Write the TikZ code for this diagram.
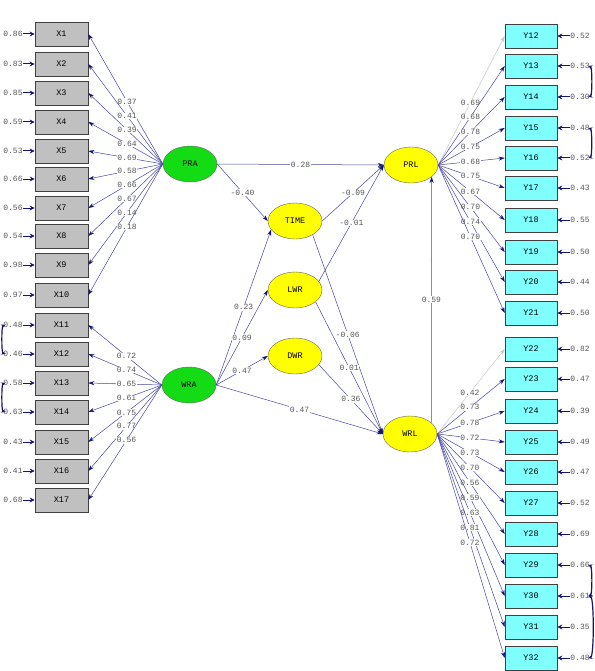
\documentclass[tikz,border=0pt]{standalone}
\usepackage{fontspec}
\setmonofont{Liberation Mono}
\usetikzlibrary{arrows.meta,shapes.geometric}
\definecolor{navy}{RGB}{20,20,120}
\definecolor{pline}{RGB}{70,70,165}
\definecolor{xgrey}{RGB}{192,192,192}
\definecolor{ycyan}{RGB}{128,255,255}
\definecolor{lgreen}{RGB}{20,220,20}
\definecolor{lyellow}{RGB}{255,255,0}
\definecolor{lbltext}{RGB}{85,85,85}
\definecolor{fixgrey}{RGB}{200,200,200}
\begin{document}
\begin{tikzpicture}[x=1pt,y=-1pt,
  xbox/.style={rectangle,draw=black!75,line width=0.6pt,fill=xgrey,minimum width=53pt,minimum height=24pt,inner sep=0pt,font=\ttfamily\fontsize{8.5}{9}\selectfont},
  ybox/.style={xbox,fill=ycyan,minimum width=52pt},
  latg/.style={ellipse,draw=black!60,line width=0.4pt,fill=lgreen,minimum width=54pt,minimum height=36pt,inner sep=0pt,font=\ttfamily\fontsize{8.5}{9}\selectfont},
  laty/.style={latg,fill=lyellow},
  err/.style={inner sep=0.5pt,text=lbltext,font=\ttfamily\fontsize{8}{8}\selectfont},
  lbl/.style={inner sep=0.6pt,fill=white,text=lbltext,font=\ttfamily\fontsize{8}{8}\selectfont},
  pth/.style={draw=pline,line width=0.5pt,-{Stealth[length=6pt,width=4pt,color=navy]}},
  fixp/.style={draw=fixgrey,line width=0.5pt,-{Stealth[length=6pt,width=4pt,color=fixgrey]}},
  erra/.style={draw=navy,line width=1pt,-{Stealth[length=5pt,width=5pt]}},
  cova/.style={draw=navy,line width=1.2pt,{Stealth[length=4pt,width=4pt]}-{Stealth[length=4pt,width=4pt]}}
]
\useasboundingbox (0,0) rectangle (594,671);

% latent variables
\node[latg] (pra) at (190,164) {PRA};
\node[latg] (wra) at (189,385) {WRA};
\node[laty] (time) at (295,221) {TIME};
\node[laty] (lwr) at (295,290) {LWR};
\node[laty] (dwr) at (295,356) {DWR};
\node[laty] (prl) at (411,165) {PRL};
\node[laty] (wrl) at (410,434) {WRL};

% X indicators
\foreach \n/\y/\e in {1/34/0.86,2/64/0.83,3/93/0.85,4/122/0.59,5/151/0.53,6/179/0.66,7/208/0.56,8/236/0.54,9/265/0.98,10/295/0.97,11/325/0.48,12/354/0.46,13/383/0.58,14/412/0.63,15/442/0.43,16/471/0.41,17/500/0.68}{
  \node[xbox] (x\n) at (61.5,\y) {X\n};
  \node[err] (ex\n) at (13,\y) {\e};
  \draw[erra] (ex\n) -- (x\n);
}
% Y indicators
\foreach \n/\y/\e in {12/36/0.52,13/66/0.53,14/97/0.30,15/128/0.48,16/158/0.52,17/188/0.43,18/220/0.55,19/252/0.50,20/282/0.44,21/313/0.50,22/349/0.82,23/379/0.47,24/411/0.39,25/442/0.49,26/472/0.47,27/503/0.52,28/534/0.69,29/565/0.66,30/596/0.61,31/627/0.35,32/658/0.48}{
  \node[ybox] (y\n) at (531,\y) {Y\n};
  \node[err] (ey\n) at (580,\y) {\e};
  \draw[erra] (ey\n) -- (y\n);
}

% loadings PRA
\foreach \n/\l in {1/0.37,2/0.41,3/0.39,4/0.64,5/0.69,6/0.58,7/0.66,8/0.67,9/0.14,10/0.18}{
  \draw[pth] (pra.west) -- node[lbl,pos=0.48]{\l} (x\n.east);
}
% loadings WRA
\foreach \n/\l in {11/0.72,12/0.74,13/0.65,14/0.61,15/0.75,16/0.77,17/0.56}{
  \draw[pth] (wra.west) -- node[lbl,pos=0.48]{\l} (x\n.east);
}
% loadings PRL
\draw[fixp] (prl.east) -- node[lbl,pos=0.485]{0.69} (y12.west);
\foreach \n/\l in {13/0.68,14/0.78,15/0.75,16/0.68,17/0.75,18/0.67,19/0.70,20/0.74,21/0.70}{
  \draw[pth] (prl.east) -- node[lbl,pos=0.485]{\l} (y\n.west);
}
% loadings WRL
\draw[fixp] (wrl.east) -- node[lbl,pos=0.485]{0.42} (y22.west);
\foreach \n/\l in {23/0.73,24/0.78,25/0.72,26/0.73,27/0.70,28/0.56,29/0.59,30/0.63,31/0.81,32/0.72}{
  \draw[pth] (wrl.east) -- node[lbl,pos=0.485]{\l} (y\n.west);
}

% structural paths
\draw[pth] (pra.east) -- node[lbl]{0.28} (prl.west);
\draw[pth] (pra.east) -- node[lbl]{-0.40} (time.west);
\draw[pth] (time.east) -- node[lbl]{-0.09} (prl.west);
\draw[pth] (lwr.20) -- node[lbl]{-0.01} (prl.west);
\draw[pth] (wra.east) -- node[lbl]{0.23} (time.200);
\draw[pth] (wra.east) -- node[lbl]{0.09} (lwr.west);
\draw[pth] (wra.east) -- node[lbl]{0.47} (dwr.west);
\draw[pth] (wra.east) -- node[lbl]{0.47} (wrl.west);
\draw[pth] (time.-38) -- node[lbl]{-0.06} (wrl.west);
\draw[pth] (lwr.-30) -- node[lbl]{0.01} (wrl.west);
\draw[pth] (dwr.-20) -- node[lbl]{0.36} (wrl.west);
\draw[pth] (wrl.28) -- node[lbl]{0.59} (prl.-30);

% error covariances
\draw[cova] ([xshift=2.5pt]ex11.west) to[out=200,in=160,looseness=0.35] ([xshift=2.5pt]ex12.west);
\draw[cova] ([xshift=2.5pt]ex13.west) to[out=200,in=160,looseness=0.35] ([xshift=2.5pt]ex14.west);
\draw[cova] ([xshift=-2pt]ey13.east) to[out=-20,in=20,looseness=0.35] ([xshift=-2pt]ey14.east);
\draw[cova] ([xshift=-2pt]ey15.east) to[out=-20,in=20,looseness=0.35] ([xshift=-2pt]ey16.east);
\draw[cova] ([xshift=-2pt]ey29.east) to[out=-20,in=20,looseness=0.35] ([xshift=-2pt]ey30.east);
\draw[cova] ([xshift=-2pt]ey30.east) to[out=-15,in=15,looseness=0.25] ([xshift=-2pt]ey32.east);
\end{tikzpicture}
\end{document}
